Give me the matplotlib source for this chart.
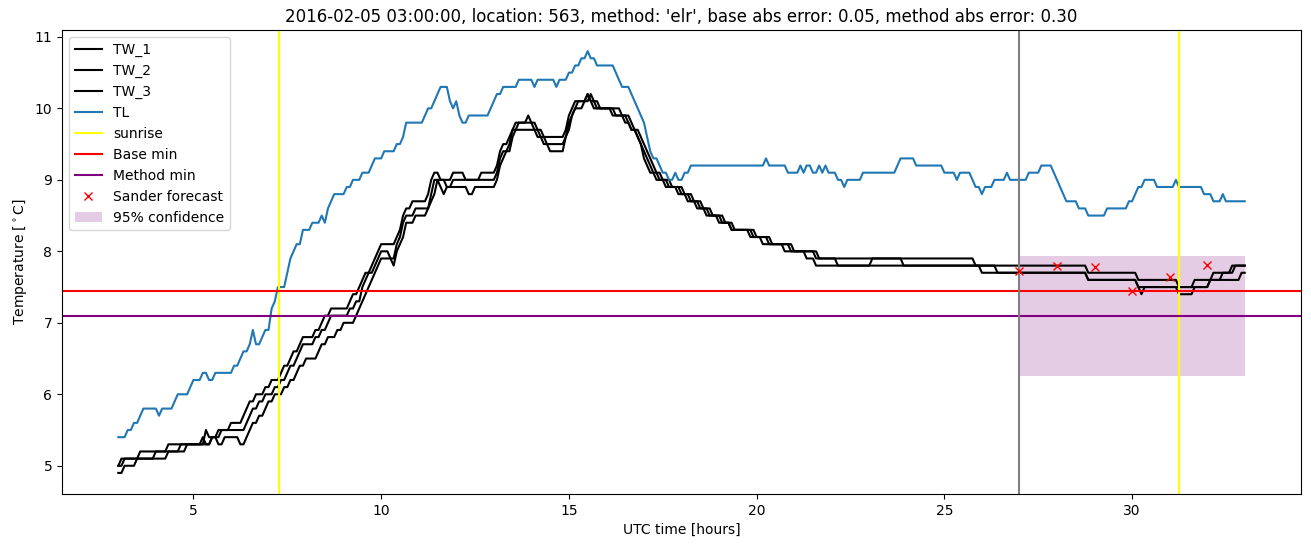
import numpy as np
import matplotlib.pyplot as plt

# 5 minute samples, hours since 2016-02-05 00:00 UTC
t = np.arange(3 * 12, 33 * 12 + 1) / 12

# (start hour, value) - value holds until the next entry
tw1_changes = [(3.0, 5.0), (3.08, 5.1), (3.58, 5.2), (4.33, 5.3), (5.33, 5.5), (5.42, 5.4), (5.67, 5.5),
               (6.0, 5.6), (6.33, 5.7), (6.42, 5.8), (6.5, 5.9), (6.67, 6.0), (6.92, 6.1), (7.08, 6.2),
               (7.33, 6.3), (7.42, 6.4), (7.58, 6.5), (7.67, 6.6), (7.83, 6.7), (7.92, 6.8), (8.25, 6.9),
               (8.42, 7.0), (8.5, 7.1), (8.67, 7.2), (9.17, 7.3), (9.25, 7.4), (9.42, 7.5), (9.5, 7.6),
               (9.58, 7.7), (9.75, 7.8), (9.83, 7.9), (9.92, 8.0), (10.0, 8.1), (10.42, 8.2), (10.5, 8.3),
               (10.58, 8.5), (10.67, 8.6), (10.83, 8.7), (11.25, 8.8), (11.33, 9.0), (11.42, 9.1),
               (11.58, 9.0), (11.92, 9.1), (12.25, 9.0), (12.67, 9.1), (13.08, 9.2), (13.17, 9.4),
               (13.25, 9.5), (13.42, 9.6), (13.5, 9.7), (13.58, 9.8), (13.92, 9.9), (14.0, 9.8),
               (14.17, 9.7), (14.33, 9.6), (14.92, 9.7), (15.0, 9.9), (15.08, 10.0), (15.17, 10.1),
               (15.5, 10.2), (15.58, 10.1), (15.67, 10.0), (16.25, 9.9), (16.58, 9.8), (16.67, 9.7),
               (16.83, 9.6), (16.92, 9.5), (17.0, 9.4), (17.08, 9.3), (17.17, 9.2), (17.25, 9.1),
               (17.42, 9.0), (17.67, 8.9), (18.0, 8.8), (18.25, 8.7), (18.5, 8.6), (18.75, 8.5),
               (19.08, 8.4), (19.33, 8.3), (19.92, 8.2), (20.33, 8.1), (20.92, 8.0), (21.58, 7.9),
               (25.83, 7.8), (26.0, 7.7), (28.83, 7.6), (30.17, 7.5), (30.25, 7.4), (30.33, 7.5),
               (31.25, 7.4), (31.67, 7.5), (32.08, 7.6), (32.42, 7.7), (32.75, 7.8)]

tw2_changes = [(3.0, 5.0), (3.17, 5.1), (4.0, 5.2), (4.67, 5.3), (5.25, 5.4), (5.33, 5.3), (5.5, 5.4),
               (5.75, 5.5), (6.42, 5.6), (6.5, 5.7), (6.58, 5.8), (6.75, 5.9), (6.92, 6.0), (7.17, 6.1),
               (7.33, 6.2), (7.5, 6.3), (7.58, 6.4), (7.75, 6.5), (7.83, 6.6), (7.92, 6.7), (8.25, 6.8),
               (8.42, 6.9), (8.58, 7.0), (8.67, 7.1), (9.17, 7.2), (9.33, 7.3), (9.5, 7.5), (9.58, 7.6),
               (9.67, 7.7), (9.83, 7.8), (9.92, 7.9), (10.0, 8.0), (10.25, 7.9), (10.42, 8.1), (10.5, 8.2),
               (10.58, 8.4), (10.67, 8.5), (10.92, 8.6), (11.33, 8.8), (11.42, 9.0), (11.75, 8.9),
               (11.92, 9.0), (13.08, 9.1), (13.17, 9.3), (13.25, 9.4), (13.42, 9.5), (13.5, 9.7),
               (13.67, 9.8), (14.08, 9.7), (14.25, 9.6), (14.42, 9.5), (14.92, 9.6), (15.0, 9.8),
               (15.08, 9.9), (15.17, 10.0), (15.25, 10.1), (15.5, 10.2), (15.58, 10.1), (15.75, 10.0),
               (16.42, 9.9), (16.67, 9.8), (16.75, 9.7), (16.92, 9.6), (17.0, 9.5), (17.08, 9.4),
               (17.17, 9.3), (17.25, 9.2), (17.33, 9.1), (17.5, 9.0), (17.75, 8.9), (18.08, 8.8),
               (18.33, 8.7), (18.58, 8.6), (18.83, 8.5), (19.17, 8.4), (19.42, 8.3), (20.0, 8.2),
               (20.42, 8.1), (21.0, 8.0), (21.67, 7.9), (22.17, 7.8), (23.08, 7.9), (23.92, 7.8),
               (26.42, 7.7), (28.83, 7.6), (30.17, 7.5), (31.67, 7.6), (32.17, 7.7), (32.67, 7.8)]

tw3_changes = [(3.0, 4.9), (3.17, 5.0), (3.5, 5.1), (4.33, 5.2), (4.83, 5.3), (5.5, 5.4), (5.67, 5.3),
               (5.83, 5.4), (6.25, 5.3), (6.42, 5.4), (6.5, 5.5), (6.58, 5.6), (6.75, 5.7), (6.92, 5.8),
               (7.0, 5.9), (7.17, 6.0), (7.42, 6.1), (7.58, 6.2), (7.75, 6.3), (7.83, 6.4), (8.0, 6.5),
               (8.33, 6.6), (8.42, 6.7), (8.58, 6.8), (8.83, 6.9), (9.0, 7.0), (9.33, 7.1), (9.42, 7.2),
               (9.5, 7.3), (9.58, 7.4), (9.67, 7.5), (9.75, 7.6), (9.83, 7.7), (9.92, 7.8), (10.0, 7.9),
               (10.33, 7.8), (10.42, 8.0), (10.5, 8.1), (10.58, 8.2), (10.67, 8.4), (10.92, 8.5),
               (11.25, 8.6), (11.33, 8.7), (11.42, 8.8), (11.5, 9.0), (11.58, 8.9), (11.67, 8.8),
               (11.75, 8.9), (12.33, 8.8), (12.5, 8.9), (13.08, 9.0), (13.17, 9.2), (13.25, 9.3),
               (13.33, 9.4), (13.5, 9.6), (13.58, 9.7), (14.17, 9.6), (14.33, 9.5), (14.5, 9.4),
               (14.92, 9.6), (15.0, 9.7), (15.08, 9.9), (15.17, 10.0), (15.42, 10.1), (15.58, 10.2),
               (15.67, 10.1), (15.83, 10.0), (16.17, 9.9), (16.5, 9.8), (16.67, 9.7), (16.83, 9.6),
               (16.92, 9.5), (17.0, 9.3), (17.08, 9.2), (17.17, 9.1), (17.33, 9.0), (17.58, 8.9),
               (17.92, 8.8), (18.17, 8.7), (18.42, 8.6), (18.67, 8.5), (19.0, 8.4), (19.33, 8.3),
               (19.83, 8.2), (20.17, 8.1), (20.75, 8.0), (21.33, 7.9), (21.58, 7.8), (28.83, 7.7),
               (30.17, 7.6), (31.25, 7.5), (32.08, 7.6), (32.92, 7.7)]

tl_changes = [(3.0, 5.4), (3.25, 5.5), (3.42, 5.6), (3.58, 5.7), (3.67, 5.8), (4.08, 5.7), (4.17, 5.8),
              (4.5, 5.9), (4.58, 6.0), (4.92, 6.1), (5.0, 6.2), (5.25, 6.3), (5.42, 6.2), (5.58, 6.3),
              (6.08, 6.4), (6.25, 6.5), (6.33, 6.6), (6.5, 6.7), (6.58, 6.9), (6.67, 6.7), (6.83, 6.8),
              (6.92, 6.9), (7.08, 7.2), (7.17, 7.3), (7.25, 7.5), (7.5, 7.7), (7.58, 7.9), (7.67, 8.0),
              (7.75, 8.1), (7.92, 8.3), (8.17, 8.4), (8.42, 8.5), (8.5, 8.4), (8.58, 8.6), (8.67, 8.7),
              (8.75, 8.8), (9.08, 8.9), (9.25, 9.0), (9.5, 9.1), (9.75, 9.2), (9.83, 9.3), (10.08, 9.4),
              (10.42, 9.5), (10.58, 9.6), (10.67, 9.8), (11.17, 9.9), (11.25, 10.0), (11.42, 10.1),
              (11.5, 10.2), (11.58, 10.3), (11.83, 10.1), (11.92, 10.0), (12.0, 10.1), (12.08, 9.9),
              (12.17, 9.8), (12.33, 9.9), (12.92, 10.0), (13.0, 10.1), (13.08, 10.2), (13.25, 10.3),
              (13.67, 10.4), (14.08, 10.3), (14.17, 10.4), (14.67, 10.3), (14.75, 10.4), (15.0, 10.5),
              (15.17, 10.6), (15.33, 10.7), (15.5, 10.8), (15.58, 10.7), (15.75, 10.6), (16.25, 10.5),
              (16.33, 10.4), (16.42, 10.3), (16.67, 10.2), (16.75, 10.1), (16.83, 10.0), (16.92, 9.9),
              (17.0, 9.8), (17.08, 9.6), (17.17, 9.4), (17.25, 9.3), (17.42, 9.2), (17.5, 9.1),
              (17.67, 9.0), (17.83, 9.1), (17.92, 9.0), (18.08, 9.1), (18.25, 9.2), (20.25, 9.3),
              (20.33, 9.2), (20.83, 9.1), (21.17, 9.2), (21.25, 9.1), (21.33, 9.2), (21.5, 9.1),
              (21.67, 9.2), (21.75, 9.1), (21.83, 9.2), (21.92, 9.1), (22.17, 9.0), (22.33, 8.9),
              (22.42, 9.0), (22.83, 9.1), (23.75, 9.2), (23.83, 9.3), (24.25, 9.2), (25.0, 9.1),
              (25.33, 9.0), (25.42, 9.1), (25.75, 9.0), (25.83, 8.9), (26.0, 8.8), (26.08, 8.9),
              (26.33, 9.0), (26.67, 9.1), (26.75, 9.0), (27.25, 9.1), (27.58, 9.2), (27.92, 9.1),
              (28.0, 9.0), (28.08, 8.9), (28.17, 8.8), (28.25, 8.7), (28.58, 8.6), (28.83, 8.5),
              (29.33, 8.6), (29.92, 8.7), (30.08, 8.8), (30.17, 8.9), (30.33, 9.0), (30.67, 8.9),
              (31.17, 9.0), (31.25, 8.9), (31.92, 8.8), (32.17, 8.7), (32.42, 8.8), (32.5, 8.7)]

sunrise = [7.28, 31.25]
base_min = 7.45
method_min = 7.1
forecast_start = 27
forecast_hours = [27, 28, 29, 30, 31, 32]
forecast_temp = [7.72, 7.80, 7.78, 7.45, 7.64, 7.81]
conf_low, conf_high = 6.25, 7.94
conf_end = 33


def expand(changes):
    starts = np.round(np.array([c[0] for c in changes]) * 12)
    vals = np.array([c[1] for c in changes])
    idx = np.searchsorted(starts, np.round(t * 12), side='right') - 1
    return vals[idx]


fig, ax = plt.subplots(figsize=(13.11, 5.47), dpi=100)
fig.subplots_adjust(left=0.0473, right=0.9924, bottom=0.0969, top=0.945)

ax.plot(t, expand(tw1_changes), color='black', label='TW_1')
ax.plot(t, expand(tw2_changes), color='black', label='TW_2')
ax.plot(t, expand(tw3_changes), color='black', label='TW_3')
ax.plot(t, expand(tl_changes), color='C0', label='TL')
ax.axvline(sunrise[0], color='yellow', label='sunrise')
ax.axvline(sunrise[1], color='yellow')
ax.axhline(base_min, color='red', label='Base min')
ax.axhline(method_min, color='purple', label='Method min')
ax.axvline(forecast_start, color='gray')
ax.plot(forecast_hours, forecast_temp, 'rx', label='Sander forecast')
ax.fill_between([forecast_start, conf_end], conf_low, conf_high, color='purple', alpha=0.2,
                linewidth=0, zorder=0, label='95% confidence')

ax.set_xlabel('UTC time [hours]')
ax.set_ylabel(r'Temperature [$^\circ$C]')
ax.set_title("2016-02-05 03:00:00, location: 563, method: 'elr', base abs error: 0.05, "
             "method abs error: 0.30")
ax.legend(loc='upper left')

plt.savefig('out.png')
